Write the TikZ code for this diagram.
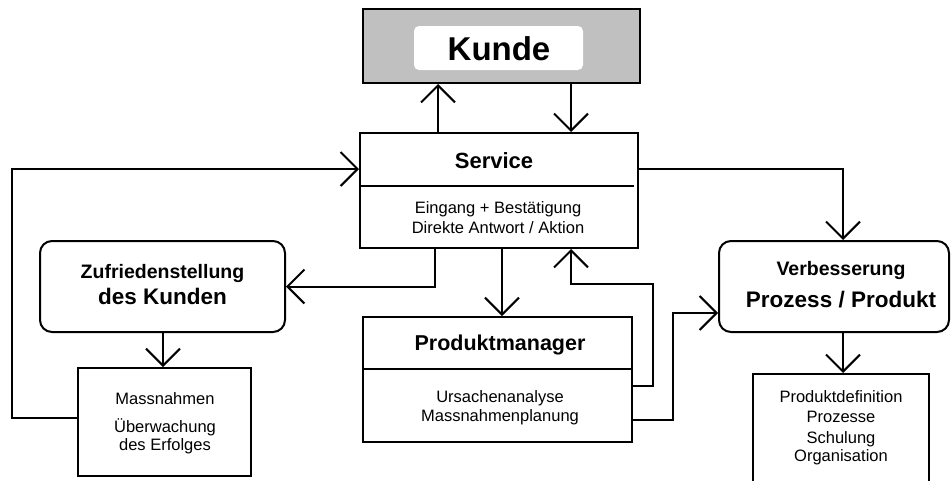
\documentclass[tikz,border=0pt]{standalone}
\usepackage{fontspec}
\setmainfont{Liberation Sans}
\usetikzlibrary{arrows.meta}
\definecolor{kundegray}{HTML}{C0C0C0}
\begin{document}
\begin{tikzpicture}[x=1pt,y=-1pt,
  line width=2pt,
  >={Straight Barb[length=17pt,width=34pt,line width=2pt]},
  box/.style={draw,rectangle,inner sep=0pt,minimum width=#1},
  rbox/.style={draw,rectangle,rounded corners=12pt,inner sep=0pt,minimum width=#1},
  txt/.style={inner sep=0pt,anchor=base,font=\fontsize{16.5}{18}\selectfont},
  head/.style={inner sep=0pt,anchor=base,font=\bfseries\fontsize{#1}{#1}\selectfont},
  conn/.style={->,line join=miter}
]
\useasboundingbox (0,0) rectangle (951,480);
\clip (0,0) rectangle (951,480);

% customer box
\node[box=277pt,minimum height=74pt,fill=kundegray] (kunde) at (501.5,46) {};
\node[fill=white,rounded corners=5pt,minimum width=169pt,minimum height=44pt,inner sep=0pt] (kundein) at (498.5,48) {};
\node[head=33] (kundet) at (499,60) {Kunde};

% service box
\node[box=278pt,minimum height=115pt] (service) at (499,190.5) {};
\draw (service.west |- 0,186) -- (634,186);
\node[head=22] (servicet) at (494,168) {Service};
\node[txt] (s1) at (498,213) {Eingang + Bestätigung};
\node[txt] (s2) at (498,233) {Direkte Antwort / Aktion};

% customer satisfaction
\node[rbox=245pt,minimum height=91pt] (zuf) at (162.5,286.5) {};
\node[head=19.5] (z1) at (162.5,278) {Zufriedenstellung};
\node[head=22.5] (z2) at (162.5,304) {des Kunden};

% measures
\node[box=173pt,minimum height=108pt] (mass) at (164.5,422) {};
\node[txt] (m1) at (165,404) {Massnahmen};
\node[txt] (m2) at (165,432) {Überwachung};
\node[txt] (m3) at (165,450) {des Erfolges};

% product manager
\node[box=269pt,minimum height=125pt] (pm) at (497.5,379.5) {};
\draw (pm.west |- 0,369) -- (pm.east |- 0,369);
\node[head=21.5] (pmt) at (500,350) {Produktmanager};
\node[txt] (p1) at (500,402) {Ursachenanalyse};
\node[txt] (p2) at (500,421) {Massnahmenplanung};

% improvement
\node[rbox=230pt,minimum height=91pt] (verb) at (834,286.5) {};
\node[head=19.5] (v1) at (841,275) {Verbesserung};
\node[head=22.5] (v2) at (841,307) {Prozess / Produkt};

% resulting items
\node[box=176pt,minimum height=150pt] (prod) at (841,449) {};
\node[txt] (d1) at (841,402) {Produktdefinition};
\node[txt] (d2) at (841,422) {Prozesse};
\node[txt] (d3) at (841,443) {Schulung};
\node[txt] (d4) at (841,461) {Organisation};

% connectors
\draw[conn] (438,0 |- service.north) -- (438,0 |- kunde.south);
\draw[conn] (571,0 |- kunde.south) -- (571,0 |- service.north);
\draw[conn] (mass.west |- 0,418) -- (12,418) -- (12,169) -- (service.west |- 0,169);
\draw[conn] (435,0 |- service.south) |- (zuf.east);
\draw[conn] (163,0 |- zuf.south) -- (163,0 |- mass.north);
\draw[conn] (502,0 |- service.south) -- (502,0 |- pm.north);
\draw[conn] (pm.east |- 0,386) -- (653,386) -- (653,284) -| (571,0 |- service.south);
\draw[conn] (pm.east |- 0,420) -- (673,420) |- (verb.west |- 0,313);
\draw[conn] (service.east |- 0,169) -| (843,0 |- verb.north);
\draw[conn] (843,0 |- verb.south) -- (843,0 |- prod.north);
\end{tikzpicture}
\end{document}
